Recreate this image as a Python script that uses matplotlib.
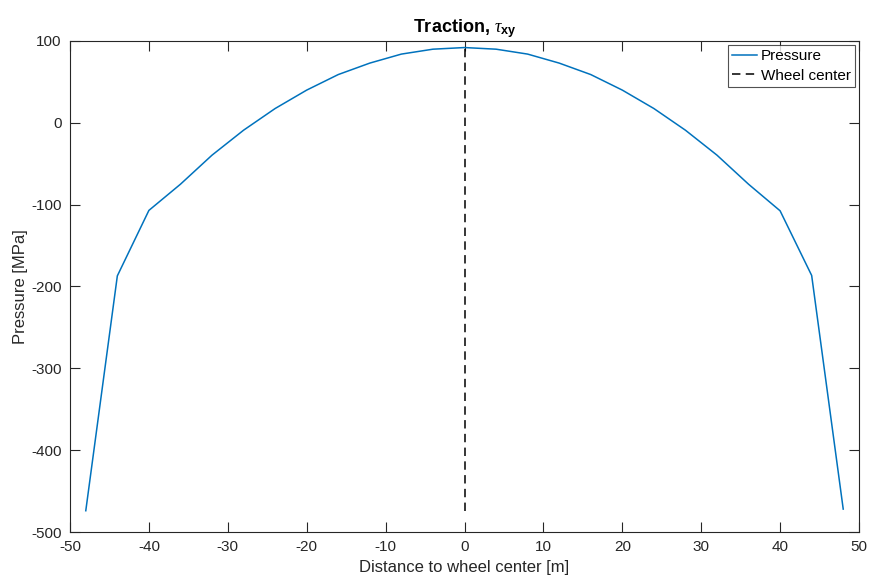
import matplotlib
matplotlib.use("Agg")
import matplotlib.pyplot as plt
import numpy as np

distance = [-48, -44, -40, -36, -32, -28, -24, -20, -16, -12, -8, -4, 0,
            4, 8, 12, 16, 20, 24, 28, 32, 36, 40, 44, 48]
pressure = [-474, -187, -107, -75, -39.5, -9, 17.5, 40, 59, 73, 84, 90, 92,
            90, 84, 73, 59, 40, 17.5, -9, -39.5, -75, -107.5, -186.5, -472]
xticks = [-50, -40, -30, -20, -10, 0, 10, 20, 30, 40, 50]
yticks = [-500, -400, -300, -200, -100, 0, 100]

plt.rcParams['font.family'] = ['Liberation Sans', 'DejaVu Sans']
plt.rcParams['axes.unicode_minus'] = False
plt.rcParams['mathtext.fontset'] = 'custom'
plt.rcParams['mathtext.rm'] = 'Liberation Sans'
plt.rcParams['mathtext.it'] = 'Liberation Serif:italic'
plt.rcParams['mathtext.bf'] = 'Liberation Sans:bold'

fig = plt.figure(figsize=(8.73, 5.81), dpi=100)
ax = fig.add_axes([70/873, 1-532/581, (859-70)/873, (532-41)/581])

ax.plot(distance, pressure, color='#0072BD', lw=1.1, label='Pressure')
ax.plot([0, 0], [min(pressure), max(pressure)], color='black', ls=(0, (5.5, 3.5)),
        lw=1.1, label='Wheel center')

ax.set_xlim(-50, 50)
ax.set_ylim(-500, 100)
ax.set_xticks(xticks)
ax.set_yticks(yticks)
ax.tick_params(direction='in', top=True, right=True, length=7, width=0.8,
               colors='#262626', labelsize=11, pad=6)
for s in ax.spines.values():
    s.set_color('#262626')
    s.set_linewidth(0.8)

ax.set_xlabel('Distance to wheel center [m]', fontsize=12, color='#262626', labelpad=4)
ax.set_ylabel('Pressure [MPa]', fontsize=12, color='#262626', labelpad=2)
ax.set_title(r'Traction, $\mathit{\tau}_{\mathbf{xy}}$', fontsize=13, fontweight='bold',
             color='black', pad=6)

leg = ax.legend(loc='upper right', fontsize=11, frameon=True, fancybox=False,
                handlelength=1.6, handletextpad=0.25, borderpad=0.3,
                labelspacing=0.35, borderaxespad=0.25)
leg.get_frame().set_edgecolor('#262626')
leg.get_frame().set_linewidth(0.8)

fig.savefig('out.png', dpi=100)
